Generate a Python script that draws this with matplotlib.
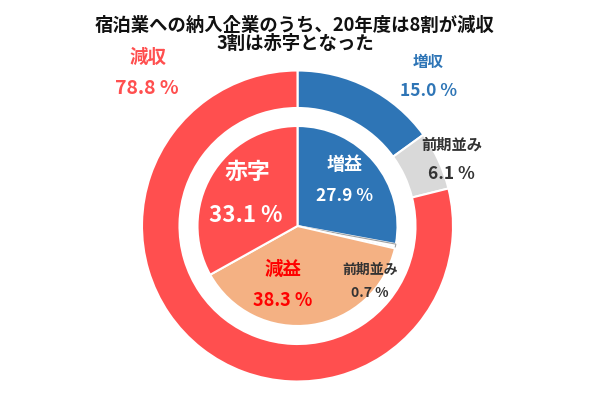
import matplotlib
matplotlib.use("Agg")
import matplotlib.pyplot as plt

plt.rcParams['font.family'] = ['Noto Sans CJK JP', 'DejaVu Sans']

title = "宿泊業への納入企業のうち、20年度は8割が減収\n3割は赤字となった"

outer_labels = ["増収", "前期並み", "減収"]
outer_values = [15.0, 6.1, 78.8]
outer_colors = ["#2E75B6", "#D9D9D9", "#FF4F4F"]

inner_labels = ["増益", "前期並み", "減益", "赤字"]
inner_values = [27.9, 0.7, 38.3, 33.1]
inner_colors = ["#2E75B6", "#FFFFFF", "#F4B183", "#FF4F4F"]

W, H = 600, 399
fig = plt.figure(figsize=(W / 100, H / 100), dpi=100)
ax = fig.add_axes([0, 0, 1, 1])

cx, cy = 297.5, H - 226

ax.pie(outer_values, radius=155.5, center=(cx, cy), startangle=90, counterclock=False,
       colors=outer_colors,
       wedgeprops=dict(width=37.5, edgecolor='white', linewidth=1.5))
wedges, _ = ax.pie(inner_values, radius=100, center=(cx, cy), startangle=90, counterclock=False,
                   colors=inner_colors,
                   wedgeprops=dict(edgecolor='white', linewidth=1.5))
wedges[1].set_edgecolor('#A0A0A0')
wedges[1].set_linewidth(0.8)

ax.set_xlim(0, W)
ax.set_ylim(0, H)
ax.set_aspect('equal')
ax.axis('off')

def px(x, y, s, **kw):
    ax.text(x, H - y, s, ha='center', va='center', fontweight='bold', **kw)

# title
t1, t2 = title.split("\n")
px(295, 25, t1, fontsize=13.2, color='#111111')
px(295, 43, t2, fontsize=13.2, color='#111111')

# outer labels
px(148, 57, outer_labels[2], fontsize=13.3, color='#FF4F4F')
px(147, 88, f"{outer_values[2]:.1f} %", fontsize=14, color='#FF4F4F')
px(428, 62, outer_labels[0], fontsize=11.2, color='#2E75B6')
px(428, 91, f"{outer_values[0]:.1f} %", fontsize=12.5, color='#2E75B6')
px(452, 145, outer_labels[1], fontsize=11, color='#333333')
px(451, 174, f"{outer_values[1]:.1f} %", fontsize=12.5, color='#333333')

# inner labels
px(345, 165, inner_labels[0], fontsize=13, color='white')
px(345, 196, f"{inner_values[0]:.1f} %", fontsize=12.5, color='white')
px(370, 270, inner_labels[1], fontsize=10, color='#333333')
px(370, 293, f"{inner_values[1]:.1f} %", fontsize=10, color='#333333')
px(283, 269, inner_labels[2], fontsize=13.3, color='#FF0000')
px(283, 300, f"{inner_values[2]:.1f} %", fontsize=13, color='#FF0000')
px(247, 172, inner_labels[3], fontsize=16.5, color='white')
px(246, 216, f"{inner_values[3]:.1f} %", fontsize=16, color='white')

fig.savefig("out.png", dpi=100, facecolor='white')
